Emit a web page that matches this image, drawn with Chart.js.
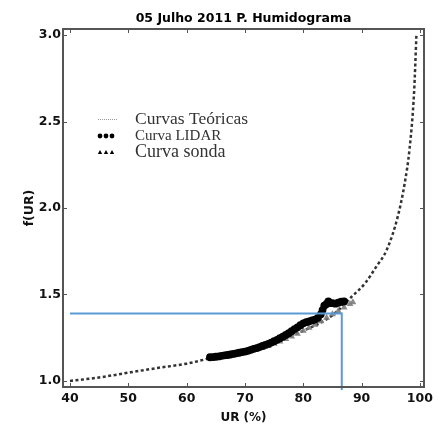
<!DOCTYPE html>
<html>
<head>
<meta charset="utf-8">
<script src="https://cdn.jsdelivr.net/npm/chart.js@4.4.0/dist/chart.umd.min.js"></script>
<style>
  html, body { margin: 0; padding: 0; background: #fff; }
  #wrap { width: 444px; height: 425px; position: relative; }
</style>
</head>
<body>
<div id="wrap"><canvas id="humChart" width="444" height="425"></canvas></div>
<script>
// tick values
const xTicks = [40, 50, 60, 70, 80, 90, 100];
const yTicks = [1.0, 1.5, 2.0, 2.5, 3.0];

// theoretical curve
const theoryX = [40, 45, 50, 55, 60, 65, 70, 75, 80, 85, 88.3, 90.6, 92.5, 94.3, 96.2, 97.4, 98.2, 99.0, 99.4];
const theoryY = [1.00, 1.02, 1.048, 1.075, 1.10, 1.14, 1.18, 1.23, 1.29, 1.38, 1.487, 1.565, 1.66, 1.757, 1.95, 2.145, 2.335, 2.67, 3.0];

// LIDAR points
const lidarX = [64, 64.5, 65, 65.5, 66, 66.5, 67, 67.5, 68, 68.5, 69, 69.5, 70, 70.5, 71, 71.5, 72, 72.5, 73, 73.5,
  74, 74.5, 75, 75.5, 76, 76.5, 77, 77.5, 78, 78.5, 79, 79.5, 80, 80.5, 81, 81.5, 82, 82.5, 83, 83.3,
  83.6, 84, 84.3, 84.6, 85, 85.5, 86, 86.5, 87];
const lidarY = [1.137, 1.138, 1.14, 1.142, 1.145, 1.148, 1.15, 1.153, 1.156, 1.16, 1.163, 1.167, 1.17, 1.174, 1.18, 1.186, 1.19, 1.196, 1.202, 1.208,
  1.214, 1.222, 1.23, 1.238, 1.247, 1.256, 1.266, 1.276, 1.288, 1.30, 1.31, 1.322, 1.333, 1.34, 1.345, 1.35, 1.355, 1.365, 1.385, 1.41,
  1.435, 1.445, 1.46, 1.45, 1.45, 1.447, 1.452, 1.458, 1.46];

// sonda points
const sondaX = [68, 69, 70, 71, 72, 73, 74, 75, 76, 77, 78, 79, 80, 81, 82, 83, 84, 85, 86, 87, 88, 88.5];
const sondaY = [1.15, 1.157, 1.165, 1.173, 1.182, 1.192, 1.203, 1.215, 1.228, 1.242, 1.257, 1.273, 1.29, 1.307, 1.325, 1.345, 1.365, 1.385, 1.405, 1.425, 1.445, 1.455];

// blue guide lines
const guideX = [40, 86.6, 86.6];
const guideY = [1.39, 1.39, 0.947];

const toPts = (xs, ys) => xs.map((x, i) => ({ x: x, y: ys[i] }));

// frame, inward ticks and legend
const framePlugin = {
    id: 'frame',
    afterDraw(chart) {
        const ctx = chart.ctx;
        const a = chart.chartArea;
        const xs = chart.scales.x, ys = chart.scales.y;
        ctx.save();
        ctx.strokeStyle = '#555';
        ctx.lineWidth = 2;
        ctx.strokeRect(a.left, a.top, a.right - a.left, a.bottom - a.top);
        ctx.lineWidth = 1;
        ctx.beginPath();
        xTicks.forEach(v => {
            const p = Math.round(xs.getPixelForValue(v)) + 0.5;
            ctx.moveTo(p, a.bottom); ctx.lineTo(p, a.bottom - 4);
            ctx.moveTo(p, a.top); ctx.lineTo(p, a.top + 4);
        });
        yTicks.forEach(v => {
            const p = Math.round(ys.getPixelForValue(v)) + 0.5;
            ctx.moveTo(a.left, p); ctx.lineTo(a.left + 4, p);
            ctx.moveTo(a.right, p); ctx.lineTo(a.right - 4, p);
        });
        ctx.stroke();

        // legend
        ctx.fillStyle = '#333';
        ctx.textBaseline = 'middle';
        ctx.textAlign = 'left';
        ctx.strokeStyle = '#999';
        ctx.setLineDash([1, 1]);
        ctx.beginPath();
        ctx.moveTo(98, 119.5); ctx.lineTo(117, 119.5);
        ctx.stroke();
        ctx.setLineDash([]);
        ctx.font = '17.5px "Liberation Serif"';
        ctx.fillText('Curvas Teóricas', 135, 119);
        ctx.fillStyle = '#000';
        [100, 106, 112].forEach(x => {
            ctx.beginPath();
            ctx.arc(x, 136, 2.4, 0, Math.PI * 2);
            ctx.fill();
            ctx.beginPath();
            ctx.moveTo(x - 2.2, 154);
            ctx.lineTo(x + 2.2, 154);
            ctx.lineTo(x, 150);
            ctx.closePath();
            ctx.fill();
        });
        ctx.fillStyle = '#333';
        ctx.font = '15px "Liberation Serif"';
        ctx.fillText('Curva LIDAR', 135, 136);
        ctx.font = '18px "Liberation Serif"';
        ctx.fillText('Curva sonda', 135, 152);
        ctx.restore();
    }
};

const ctx = document.getElementById('humChart').getContext('2d');
const humChart = new Chart(ctx, {
    type: 'scatter',
    data: {
        datasets: [
            {
                label: 'Guia',
                type: 'line',
                data: toPts(guideX, guideY),
                borderColor: 'rgb(91,155,213)',
                borderWidth: 2,
                pointRadius: 0,
                fill: false,
                clip: false,
                order: 0
            },
            {
                label: 'Curva LIDAR',
                data: toPts(lidarX, lidarY),
                backgroundColor: '#000',
                borderColor: '#000',
                pointRadius: 3.9,
                pointBorderWidth: 0,
                order: 1
            },
            {
                label: 'Curva sonda',
                data: toPts(sondaX, sondaY),
                pointStyle: 'triangle',
                backgroundColor: 'rgba(125,125,125,0.9)',
                borderColor: 'rgba(125,125,125,0.9)',
                pointRadius: 4,
                pointBorderWidth: 0,
                order: 2
            },
            {
                label: 'Curvas Teóricas',
                type: 'line',
                data: toPts(theoryX, theoryY),
                borderColor: '#333',
                borderWidth: 2.5,
                borderDash: [3, 2.5],
                pointRadius: 0,
                cubicInterpolationMode: 'monotone',
                fill: false,
                order: 3
            }
        ]
    },
    options: {
        responsive: false,
        animation: false,
        layout: { padding: { left: 0, right: 20, top: 0, bottom: 0 } },
        plugins: {
            legend: { display: false },
            tooltip: { enabled: false },
            title: {
                display: true,
                text: '05 Julho 2011 P. Humidograma',
                fullSize: false,
                color: '#000',
                font: { family: 'DejaVu Sans', size: 12.5, weight: 'bold' },
                padding: { top: 11, bottom: 3 }
            }
        },
        scales: {
            x: {
                type: 'linear',
                min: 38.8,
                max: 100.7,
                grid: { display: false, drawTicks: false },
                border: { display: false },
                afterBuildTicks: s => { s.ticks = xTicks.map(v => ({ value: v })); },
                afterFit: s => { s.height = 38; },
                ticks: {
                    color: '#111',
                    padding: 4,
                    font: { family: 'DejaVu Sans', size: 12.5, weight: 'bold' }
                },
                title: {
                    display: true,
                    text: 'UR (%)',
                    color: '#111',
                    font: { family: 'DejaVu Sans', size: 12, weight: 'bold' },
                    padding: { top: 0, bottom: 0 }
                }
            },
            y: {
                type: 'linear',
                min: 0.965,
                max: 3.035,
                grid: { display: false, drawTicks: false },
                border: { display: false },
                afterBuildTicks: s => { s.ticks = yTicks.map(v => ({ value: v })); },
                afterFit: s => { s.width = 63; },
                ticks: {
                    color: '#111',
                    padding: 2,
                    font: { family: 'DejaVu Sans', size: 12.5, weight: 'bold' },
                    callback: v => v.toFixed(1)
                },
                title: {
                    display: true,
                    text: 'f(UR)',
                    color: '#111',
                    font: { family: 'DejaVu Sans', size: 12.5, weight: 'bold' },
                    padding: { top: 22, bottom: 0 }
                }
            }
        }
    },
    plugins: [framePlugin]
});
</script>
</body>
</html>
